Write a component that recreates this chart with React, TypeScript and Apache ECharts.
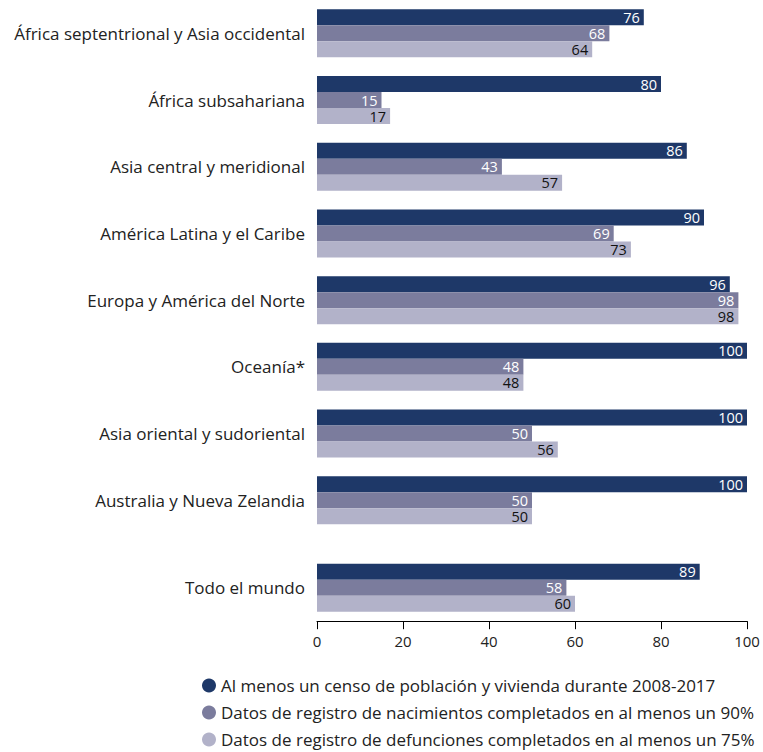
import React, { useEffect, useRef } from "react";
import * as echarts from "echarts";

const regions = [
  "África septentrional y Asia occidental",
  "África subsahariana",
  "Asia central y meridional",
  "América Latina y el Caribe",
  "Europa y América del Norte",
  "Oceanía*",
  "Asia oriental y sudoriental",
  "Australia y Nueva Zelandia",
];
const worldLabel = ["Todo el mundo"];

const seriesNames = [
  "Al menos un censo de población y vivienda durante 2008-2017",
  "Datos de registro de nacimientos completados en al menos un 90%",
  "Datos de registro de defunciones completados en al menos un 75%",
];

const censo = [76, 80, 86, 90, 96, 100, 100, 100];
const nacimientos = [68, 15, 43, 69, 98, 48, 50, 50];
const defunciones = [64, 17, 57, 73, 98, 48, 56, 50];

const censoWorld = [89];
const nacimientosWorld = [58];
const defuncionesWorld = [60];

const xTicks = { min: 0, max: 100, interval: 20 };

const colors = ["#1e3868", "#7b7c9d", "#b2b2c9"];
const labelColors = ["#ffffff", "#ffffff", "#111111"];
const FONT = "'Open Sans', Lato, sans-serif";

export default function App() {
  const ref = useRef<HTMLDivElement>(null);
  useEffect(() => {
    document.body.style.margin = "0";
    if (!ref.current) return;
    const chart = echarts.init(ref.current, undefined, { renderer: "svg" });
    const band = 66.7;
    const mkSeries = (i: number, data: number[], grid: number) => ({
      name: seriesNames[i],
      type: "bar",
      xAxisIndex: grid,
      yAxisIndex: grid,
      data,
      barWidth: 16,
      barGap: "0%",
      itemStyle: { color: colors[i] },
      label: {
        show: true,
        position: "insideRight",
        distance: 4,
        color: labelColors[i],
        fontSize: 14.5,
        lineHeight: 14,
        fontFamily: FONT,
      },
    });
    const yAxisBase = {
      type: "category",
      inverse: true,
      axisLine: { show: false },
      axisTick: { show: false },
      axisLabel: { fontSize: 17, color: "#222222", margin: 12, fontFamily: FONT },
    };
    chart.setOption({
      animation: false,
      textStyle: { fontFamily: FONT },
      color: colors,
      grid: [
        { left: 317, right: 16, top: 0, height: band * 8 },
        { left: 317, right: 16, top: 554.5, height: band },
      ],
      legend: {
        orient: "vertical",
        left: 202,
        top: 677,
        height: 90,
        padding: 0,
        icon: "circle",
        itemWidth: 14,
        itemHeight: 14,
        itemGap: 10,
        textStyle: { fontSize: 17, lineHeight: 17, color: "#222222", fontFamily: FONT },
        data: seriesNames,
      },
      xAxis: [
        { gridIndex: 0, type: "value", ...xTicks, show: false },
        {
          gridIndex: 1,
          type: "value",
          ...xTicks,
          axisLine: { show: true, lineStyle: { color: "#000", width: 1 } },
          axisTick: { show: true, length: 8, lineStyle: { color: "#000" } },
          axisLabel: { fontSize: 15, color: "#222222", margin: 12, fontFamily: FONT },
          splitLine: { show: false },
        },
      ],
      yAxis: [
        { gridIndex: 0, ...yAxisBase, data: regions },
        { gridIndex: 1, ...yAxisBase, data: worldLabel },
      ],
      series: [
        mkSeries(0, censo, 0),
        mkSeries(1, nacimientos, 0),
        mkSeries(2, defunciones, 0),
        mkSeries(0, censoWorld, 1),
        mkSeries(1, nacimientosWorld, 1),
        mkSeries(2, defuncionesWorld, 1),
      ],
    });
    return () => chart.dispose();
  }, []);
  return <div ref={ref} style={{ width: 763, height: 752 }} />;
}
